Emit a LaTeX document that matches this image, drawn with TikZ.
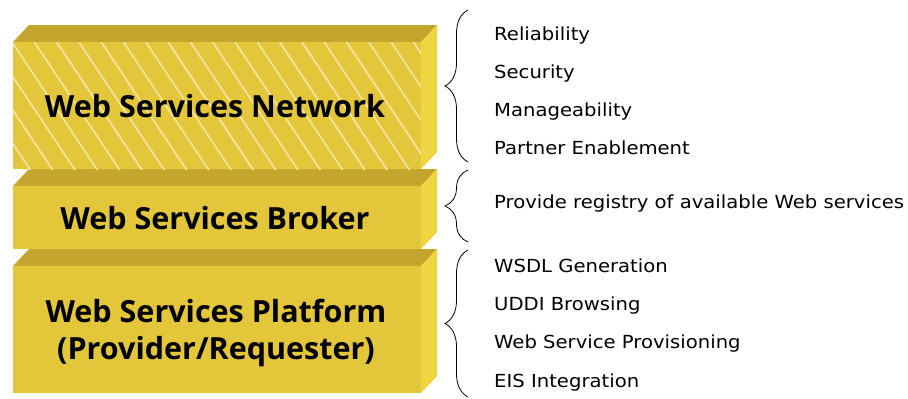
\documentclass[tikz,border=0pt]{standalone}
\usepackage{fontspec}
\setmainfont{DejaVu Sans}[FakeStretch=1.09]
\newfontfamily\titlefont{Open Sans}

\usetikzlibrary{decorations.pathreplacing}

\definecolor{frontc}{RGB}{227,198,58}
\definecolor{topc}{RGB}{196,166,46}
\definecolor{sidec}{RGB}{240,213,66}
\definecolor{hatchc}{RGB}{245,228,160}

% one slab of the stack: front face from y=#1 to y=#2, with top and right faces
\newcommand\slabdraw[2]{%
  \fill[topc] (13,#1) -- (29,#1-17) -- (437,#1-17) -- (421,#1) -- cycle;
  \fill[sidec] (421,#1) -- (437,#1-17) -- (437,#2-17) -- (421,#2) -- cycle;
  \fill[frontc] (13,#1) rectangle (421,#2);
}

\begin{document}
\begin{tikzpicture}[x=1pt,y=-1pt,
  title/.style={font=\titlefont\fontsize{30.5}{37}\selectfont\bfseries, text=black, anchor=base, inner sep=0pt, align=center},
  item/.style={font=\fontsize{18}{22}\selectfont, text=black, anchor=base west, inner sep=0pt},
  bracelink/.style={decorate, decoration={brace, amplitude=23pt}, line width=0.8pt, black}]
\useasboundingbox (0,0) rectangle (908,399);

% the three layers
\slabdraw{42}{169}
\slabdraw{186}{249}
\slabdraw{266}{393}

% diagonal hatching on the network layer
\begin{scope}
  \clip (13,42) rectangle (421,169);
  \foreach \k in {-5,...,19}
    \draw[hatchc, line width=1.7pt] (12+22.3*\k,42) -- ++(90,135);
\end{scope}

% layer titles
\node[title] (net) at (215,117) {Web Services Network};
\node[title] (brk) at (215,229) {Web Services Broker};
\node[title] (plt) at (216,322) {Web Services Platform};
\node[title] (plt2) at (216,359) {(Provider/Requester)};

% braces
\coordinate (b1t) at (468,10);  \coordinate (b1b) at (468,162);
\coordinate (b2t) at (468,170); \coordinate (b2b) at (468,242);
\coordinate (b3t) at (468,250); \coordinate (b3b) at (468,397);
\draw[bracelink] (b1b) -- (b1t);
\draw[bracelink] (b2b) -- (b2t);
\draw[bracelink] (b3b) -- (b3t);

% feature lists
\node[item] (i1) at (494,40) {Reliability};
\node[item] (i2) at (494,78) {Security};
\node[item] (i3) at (494,116) {Manageability};
\node[item] (i4) at (494,154) {Partner Enablement};
\node[item] (i5) at (494,208) {Provide registry of available Web services};
\node[item] (i6) at (494,272) {WSDL Generation};
\node[item] (i7) at (494,310) {UDDI Browsing};
\node[item] (i8) at (494,348) {Web Service Provisioning};
\node[item] (i9) at (494,387) {EIS Integration};
\end{tikzpicture}
\end{document}
